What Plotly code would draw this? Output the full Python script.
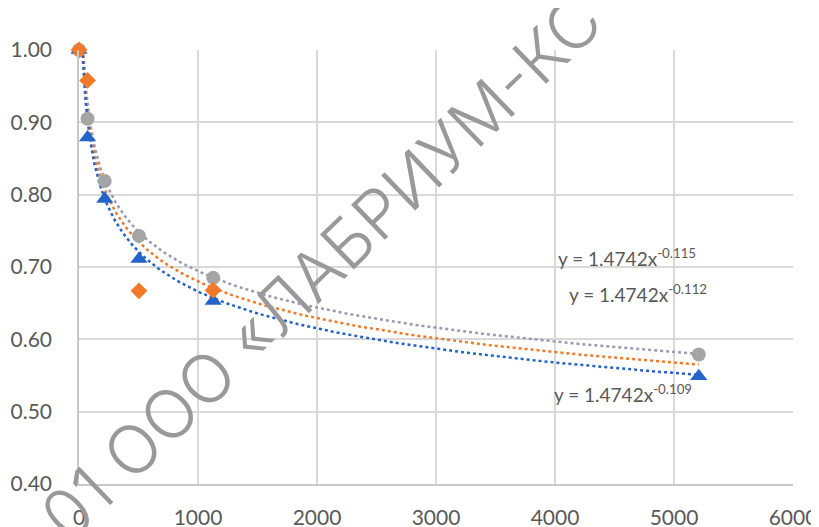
import numpy as np
import plotly.graph_objects as go

# ---- data ----
x_pts = [0, 72, 216, 504, 1128, 5208]
gray_y = [1.00, 0.905, 0.819, 0.743, 0.685, 0.579]
blue_y = [1.00, 0.879, 0.794, 0.711, 0.653, 0.549]
orange_x = [0, 72, 504, 1128]
orange_y = [1.00, 0.958, 0.667, 0.668]

# trendline equations printed on the chart: y = a * x^b
trend_coef = 1.4742
trend_exp_gray = -0.109
trend_exp_orange = -0.112
trend_exp_blue = -0.115

x_ticks = [0, 1000, 2000, 3000, 4000, 5000, 6000]
y_ticks = [0.40, 0.50, 0.60, 0.70, 0.80, 0.90, 1.00]

watermark = "01 ООО «ЛАБРИУМ-КС"

C_GRAY = "#a5a5a5"
C_BLUE = "#2463c7"
C_ORANGE = "#f07a2a"
TXT = "#595959"

fig = go.Figure()

xt = np.geomspace(1, max(x_pts), 300)
for b, col in [(trend_exp_gray, "#9a9ab0"), (trend_exp_orange, C_ORANGE), (trend_exp_blue, C_BLUE)]:
    fig.add_trace(go.Scatter(x=xt, y=trend_coef * xt ** b, mode="lines",
                             line=dict(color=col, width=2.5, dash="dot"),
                             hoverinfo="skip", showlegend=False))

fig.add_trace(go.Scatter(x=x_pts, y=gray_y, mode="markers",
                         marker=dict(symbol="circle", size=14, color=C_GRAY),
                         cliponaxis=False, showlegend=False))
fig.add_trace(go.Scatter(x=x_pts, y=blue_y, mode="markers",
                         marker=dict(symbol="triangle-up", size=15, color=C_BLUE),
                         cliponaxis=False, showlegend=False))
fig.add_trace(go.Scatter(x=orange_x, y=orange_y, mode="markers",
                         marker=dict(symbol="diamond", size=13, color=C_ORANGE),
                         cliponaxis=False, showlegend=False))

def eq_text(b):
    return f"y = {trend_coef}x<sup>{b}</sup>"

# label order as placed on the reference (top to bottom)
for b, xx, yy in [(trend_exp_blue, 4010, 0.713),
                  (trend_exp_orange, 4100, 0.664),
                  (trend_exp_gray, 3975, 0.525)]:
    fig.add_annotation(x=xx, y=yy, text=eq_text(b), showarrow=False,
                       xanchor="left", yanchor="middle",
                       font=dict(family="Lato", size=19, color=TXT))

fig.add_annotation(x=2030, y=0.700, text=watermark, showarrow=False,
                   textangle=-44, xanchor="center", yanchor="middle",
                   font=dict(family="Inter", size=67, color="#999999", weight=300))

# page body adds an 8px offset, so the figure is sized to fit the window
fig.update_layout(
    width=811, height=519,
    margin=dict(l=71, r=26, t=42, b=43, autoexpand=False),
    paper_bgcolor="white", plot_bgcolor="white",
    showlegend=False,
    font=dict(family="Lato", size=21, color=TXT),
)
fig.update_xaxes(range=[0, 6000], tickvals=x_ticks, ticktext=[str(v) for v in x_ticks],
                 showgrid=True, gridcolor="#d9d9d9", gridwidth=1.5,
                 showline=True, linecolor="#c8c8c8", linewidth=1.5,
                 zeroline=False, ticks="", ticklabelstandoff=14, automargin=False)
fig.update_yaxes(range=[0.40, 1.00], tickvals=y_ticks, ticktext=[f"{v:.2f}" for v in y_ticks],
                 showgrid=True, gridcolor="#d9d9d9", gridwidth=1.5,
                 showline=True, linecolor="#c8c8c8", linewidth=1.5,
                 zeroline=False, ticks="", ticklabelstandoff=21, automargin=False)

fig.write_html("out.html")
